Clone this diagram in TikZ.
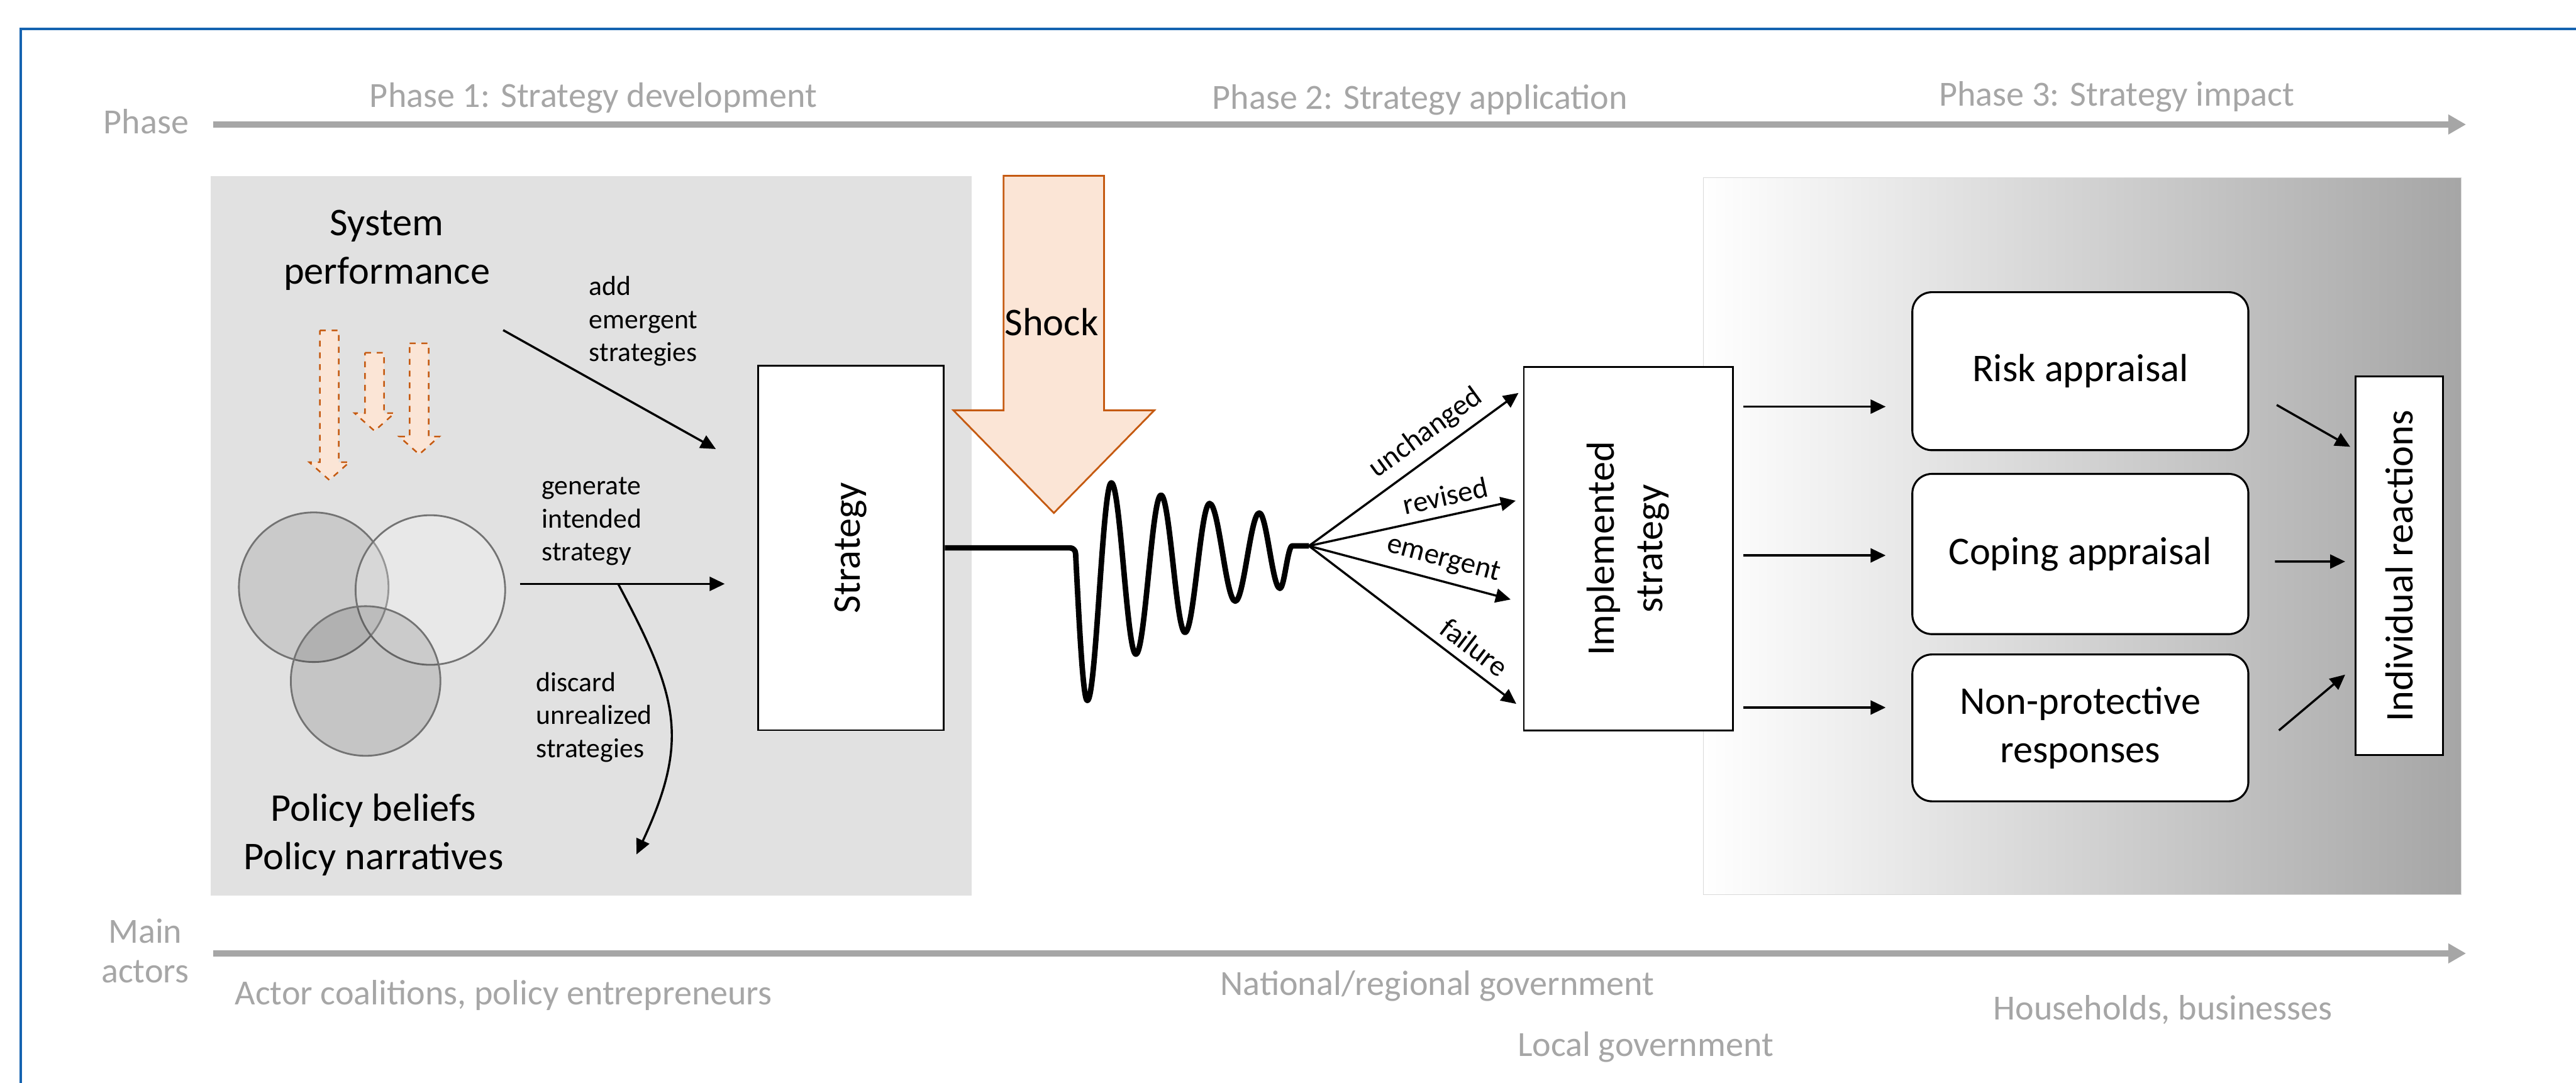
\documentclass[tikz,border=0pt]{standalone}
\usepackage{fontspec}
\setmainfont{Carlito}
\usepackage{graphicx}
\usetikzlibrary{positioning,arrows.meta,calc}

\definecolor{shockfill}{HTML}{FBE5D6}
\definecolor{shockline}{HTML}{C55A11}
\definecolor{frameblue}{HTML}{1563B0}
\definecolor{axisgray}{HTML}{A6A6A6}
\definecolor{panelgray}{HTML}{E1E1E1}

\newcommand{\txtbig}{\fontsize{20}{24.7}\selectfont}
\newcommand{\txtsmall}{\fontsize{14}{16.9}\selectfont}
\newcommand{\txtfan}{\fontsize{15}{18}\selectfont}
\newcommand{\txtaxis}{\fontsize{18}{20}\selectfont}

\begin{document}
\begin{tikzpicture}[
  box/.style = {draw, line width=0.9pt, fill=white, inner sep=0pt},
  rbox/.style = {box, line width=1pt, rounded corners=3.5mm, minimum width=6.02cm, font=\txtbig, align=center},
  arr/.style = {line width=1.1pt, -{Triangle[length=2.7mm,width=2.5mm]}},
  phasearrow/.style = {axisgray, line width=1.2mm, -{Triangle[length=3.2mm,width=3.4mm]}},
  axislbl/.style = {text=axisgray, font=\txtaxis, anchor=base, inner sep=0pt},
  lbl/.style = {font=\txtsmall, align=left, anchor=west, inner sep=0pt},
  fanlbl/.style = {font=\txtfan, sloped, above, inner sep=1.5mm},
  dashdown/.style = {draw=shockline, fill=shockfill, dashed, line width=0.8pt},
  ring/.style = {draw=black!55, line width=0.9pt}
]
\useasboundingbox (0,0) rectangle (46.15,-19.40);

\draw[frameblue, line width=0.05cm] (0.37,-19.6) -- (0.37,-0.52) -- (46.3,-0.52);

\fill[panelgray] (3.77,-3.15) rectangle (17.41,-16.04);
\shadedraw[left color=white, right color=black!35, draw=black!15] (30.52,-3.18) rectangle (44.09,-16.03);

\coordinate (ph0) at (3.82,-2.23);
\coordinate (ph1) at (44.18,-2.23);
\coordinate (ac0) at (3.82,-17.08);
\coordinate (ac1) at (44.18,-17.08);
\draw[phasearrow] (ph0) -- (ph1);
\draw[phasearrow] (ac0) -- (ac1);

\node[axislbl] (phase) at (2.62,-2.39) {Phase};
\node[axislbl] (ph1lbl) at (10.63,-1.92) {Phase 1: Strategy development};
\node[axislbl] (ph2lbl) at (25.44,-1.95) {Phase 2: Strategy application};
\node[axislbl] (ph3lbl) at (37.92,-1.90) {Phase 3: Strategy impact};
\node[axislbl] (main) at (2.60,-16.90) {Main};
\node[axislbl] (actors) at (2.60,-17.60) {actors};
\node[axislbl] (act1) at (9.02,-18.00) {Actor coalitions, policy entrepreneurs};
\node[axislbl] (act2) at (25.75,-17.83) {National/regional government};
\node[axislbl] (act3) at (29.48,-18.92) {Local government};
\node[axislbl] (act4) at (38.75,-18.27) {Households, businesses};

\node[font=\txtbig, align=center] (sysperf) at (6.93,-4.48) {System\\performance};
\node[font=\txtbig, align=center] (beliefs) at (6.69,-14.96) {Policy beliefs\\Policy narratives};

\foreach \x/\t/\b in {5.90/5.92/8.60, 6.71/6.32/7.72, 7.51/6.15/8.14}
  \draw[dashdown] (\x-0.17,-\t) -- (\x+0.17,-\t) -- (\x+0.17,-\b+0.32) -- (\x+0.36,-\b+0.32)
    -- (\x,-\b) -- (\x-0.36,-\b+0.32) -- (\x-0.17,-\b+0.32) -- cycle;

\draw[ring, fill=black, fill opacity=0.1] (5.62,-10.52) circle (1.34);
\draw[ring, fill=white, fill opacity=0.25] (7.71,-10.57) circle (1.34);
\draw[ring, fill=black, fill opacity=0.12] (6.55,-12.20) circle (1.34);

\node[box, minimum width=3.33cm, minimum height=6.53cm] (strat) at (15.245,-9.815) {\rotatebox{90}{\txtbig Strategy}};
\node[box, minimum width=3.75cm, minimum height=6.52cm] (impl) at (29.175,-9.83)
  {\rotatebox{90}{\txtbig\begin{tabular}{@{}c@{}}Implemented\\strategy\end{tabular}}};
\node[rbox, minimum height=2.87cm] (coping) at (37.27,-9.925) {Coping appraisal};
\node[rbox, minimum height=2.83cm, above=3.9mm of coping] (risk) {Risk appraisal};
\node[rbox, minimum height=2.63cm, below=3.3mm of coping] (nonprot) {Non-protective\\responses};
\node[box, minimum width=1.57cm, minimum height=6.79cm] (indiv) at (42.985,-10.135) {\rotatebox{90}{\txtbig Individual reactions}};

\node[lbl] (addlbl) at (10.55,-5.755) {add\\emergent\\strategies};
\node[lbl] (genlbl) at (9.70,-9.34) {generate\\intended\\strategy};
\node[lbl] (dislbl) at (9.60,-12.85) {discard\\unrealized\\strategies};

\draw[arr] ($(strat.north west)+(-4.55,0.62)$) -- ($(strat.north west)+(-0.74,-1.51)$);
\draw[arr] ($(strat.west)+(-4.25,-0.645)$) -- ($(strat.west)+(-0.58,-0.645)$);
\coordinate (split) at ($(strat.west)+(-2.49,-0.645)$);
\draw[arr] (split) to[out=-62,in=65,looseness=1.2] ($(strat.south west)+(-2.16,-2.21)$);

\draw[shockline, fill=shockfill, line width=0.9pt] (17.98,-3.15) -- (19.78,-3.15) -- (19.78,-7.35) -- (20.68,-7.35)
  -- (18.88,-9.19) -- (17.08,-7.35) -- (17.98,-7.35) -- cycle;
\node[font=\txtbig, anchor=base] (shocklbl) at (18.84,-6.01) {Shock};

\coordinate (fan) at (23.45,-9.78);
\draw[line width=2.8pt, line join=round] (strat.east) -- (19.17,-9.815) to[out=0,in=90] (19.27,-9.92)
  sin (19.48,-12.55) cos (19.695,-10.60) sin (19.91,-8.65) cos (20.13,-10.185) sin (20.35,-11.72)
  cos (20.575,-10.295) sin (20.80,-8.87) cos (21.015,-10.10) sin (21.23,-11.33)
  cos (21.45,-10.175) sin (21.67,-9.02) cos (21.90,-9.895) sin (22.13,-10.77)
  cos (22.345,-9.98) sin (22.56,-9.19) cos (22.745,-9.865) sin (22.93,-10.54)
  cos (23.04,-10.155) sin (23.15,-9.78) -- (fan);

\draw[arr] (fan) -- node[fanlbl, pos=0.62] {unchanged} ($(impl.west)+(-0.08,2.79)$);
\draw[arr] (fan) -- node[fanlbl, pos=0.68] {revised} ($(impl.west)+(-0.13,0.86)$);
\draw[arr] (fan) -- node[fanlbl, pos=0.64] {emergent} ($(impl.west)+(-0.22,-0.91)$);
\draw[arr] (fan) -- node[fanlbl, pos=0.74] {failure} ($(impl.west)+(-0.12,-2.78)$);

\foreach \b/\dy in {risk/-0.635, coping/-0.025, nonprot/0.365}
  \draw[arr] ($(\b.west -| impl.east)+(0.17,\dy)$) -- ($(\b.west)+(-0.46,\dy)$);

\draw[arr] ($(risk.east)+(0.49,-0.605)$) -- ($(indiv.north west)+(-0.08,-1.28)$);
\draw[arr] ($(coping.east)+(0.46,-0.135)$) -- ($(indiv.west)+(-0.17,0.075)$);
\draw[arr] ($(nonprot.east)+(0.53,-0.045)$) -- ($(indiv.south west)+(-0.17,1.46)$);
\end{tikzpicture}
\end{document}
